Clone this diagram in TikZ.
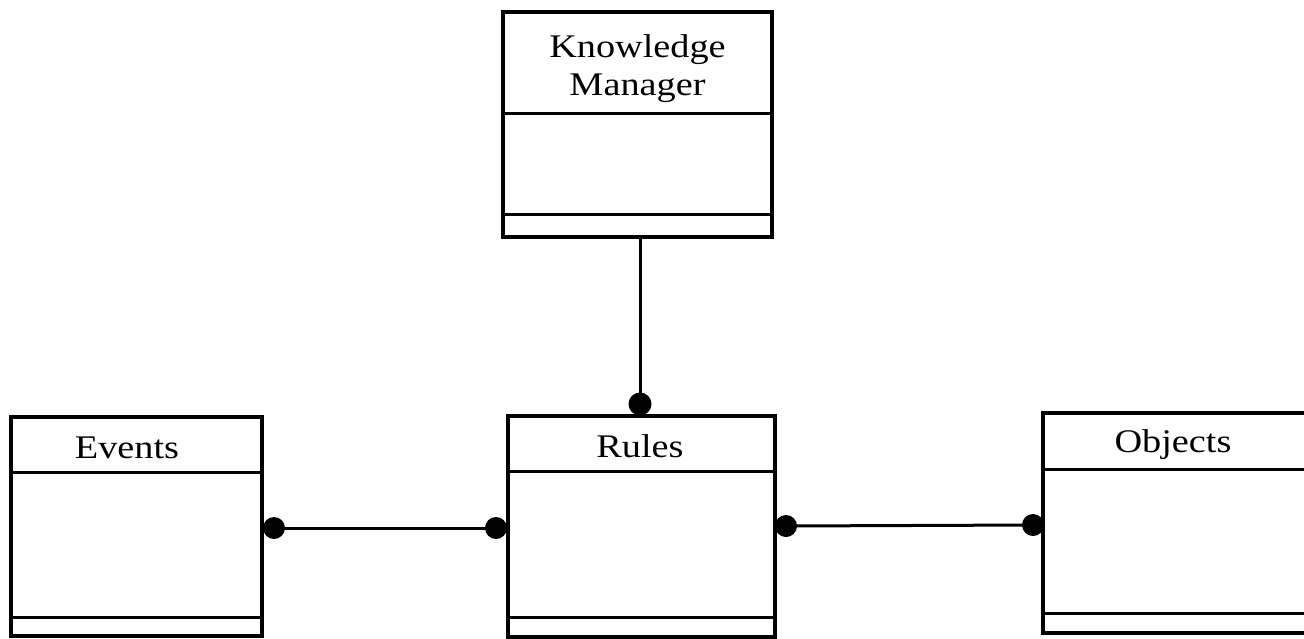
\documentclass[tikz,border=0pt]{standalone}
\usepackage{fontspec}
\setmainfont{Liberation Serif}[FakeStretch=1.16]
\begin{document}
\begin{tikzpicture}[x=1pt,y=-1pt,
  frame/.style={draw=black, line width=3.2pt, inner sep=0pt, outer sep=0pt},
  sep/.style={draw=black, line width=3pt},
  link/.style={draw=black, line width=3pt},
  dot/.style={fill=black},
  title/.style={font=\fontsize{33}{38}\selectfont, inner sep=0pt, anchor=base, align=center}]
\useasboundingbox (0,0) rectangle (1304,638);
\clip (0,0) rectangle (1304,638);

% class boxes
\node[frame, minimum width=269pt, minimum height=225pt] (km) at (637.5,124.5) {};
\node[frame, minimum width=251pt, minimum height=219pt] (events) at (136.5,526.5) {};
\node[frame, minimum width=267pt, minimum height=221pt] (rules) at (641.5,526.5) {};
\node[frame, minimum width=287pt, minimum height=220pt] (objects) at (1186.5,523) {};

% compartment separators
\draw[sep] (km.west |- 0,113) -- (km.east |- 0,113);
\draw[sep] (km.west |- 0,214) -- (km.east |- 0,214);
\draw[sep] (events.west |- 0,472) -- (events.east |- 0,472);
\draw[sep] (events.west |- 0,617) -- (events.east |- 0,617);
\draw[sep] (rules.west |- 0,471) -- (rules.east |- 0,471);
\draw[sep] (rules.west |- 0,617) -- (rules.east |- 0,617);
\draw[sep] (objects.west |- 0,469) -- (objects.east |- 0,469);
\draw[sep] (objects.west |- 0,613) -- (objects.east |- 0,613);

% class names (a two-line node sits on the baseline of its last line)
\node[title] (kmname) at (637.5,95) {Knowledge\\Manager};
\node[title] (eventsname) at (127,458) {Events};
\node[title] (rulesname) at (640,457) {Rules};
\node[title] (objectsname) at (1173,452) {Objects};

% association end points
\coordinate (kmr) at (640,404);
\coordinate (evr) at (274,528);
\coordinate (rul) at (496,528);
\coordinate (rur) at (786,526);
\coordinate (obl) at (1033,525);

% associations
\draw[link] (kmr |- km.south) -- (kmr);
\draw[link] (evr) -- (rul);
\draw[link] (rur) -- (obl);

\fill[dot] (kmr) circle (11.5pt);
\fill[dot] (evr) circle (11pt);
\fill[dot] (rul) circle (11pt);
\fill[dot] (rur) circle (11pt);
\fill[dot] (obl) circle (11pt);
\end{tikzpicture}
\end{document}
